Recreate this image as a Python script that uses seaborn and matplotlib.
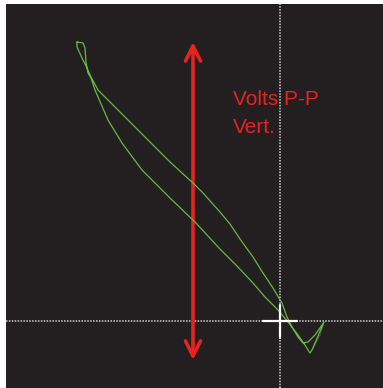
import numpy as np
import matplotlib
matplotlib.use("Agg")
import matplotlib.pyplot as plt
import seaborn as sns
import pandas as pd
from matplotlib import font_manager

# trace du scope (divisions, croix = 0,0)
# branche descendante
trace_x = [-4.06, -4.06, -3.96, -3.86, -3.78, -3.64, -3.30, -2.90, -2.50, -2.20,
           -1.74, -1.54, -1.20, -1.00, -0.80, -0.54, -0.34, -0.14, 0.04, 0.14,
           0.24, 0.36, 0.46, 0.56, 0.70, 0.80, 0.88]
trace_y = [5.58, 5.48, 5.26, 5.06, 4.88, 4.62, 4.28, 3.88, 3.48, 3.18,
           2.76, 2.56, 2.18, 1.94, 1.64, 1.28, 0.96, 0.66, 0.36, 0.08,
           -0.12, -0.32, -0.44, -0.42, -0.28, -0.14, -0.02]

# retour rapide (points espaces, trace pale)
faint_x = [0.88, 0.80, 0.72, 0.64]
faint_y = [-0.02, -0.28, -0.44, -0.58]

# branche remontante
retour_x = [0.64, 0.60, 0.50, 0.36, 0.16, -0.04, -0.30, -0.54, -0.86, -1.20,
            -1.70, -2.20, -2.76, -3.16, -3.44, -3.70, -3.78, -3.84, -3.88, -3.90,
            -3.94, -4.06]
retour_y = [-0.58, -0.64, -0.48, -0.28, -0.02, 0.22, 0.48, 0.76, 1.10, 1.44,
            1.98, 2.46, 3.02, 3.56, 4.02, 4.62, 4.86, 4.96, 5.18, 5.46,
            5.56, 5.58]

arrow_x = -1.74
arrow_top = 5.58
arrow_bottom = -0.78

label_lines = ["Volts P-P", "Vert."]

bg = "#231f20"
green = "#66b845"
red = "#e5231f"

sns.set_theme(style="dark", rc={"axes.facecolor": bg, "figure.facecolor": "white"})
plt.rcParams["font.family"] = ["Liberation Sans", "DejaVu Sans"]

# police etroite si dispo
noms = {f.name for f in font_manager.fontManager.ttflist}
txt_font = ["Liberation Sans Narrow"] if "Liberation Sans Narrow" in noms else ["Liberation Sans"]
txt_size = 17 if "Liberation Sans Narrow" in noms else 15

fig = plt.figure(figsize=(3.83, 3.88), dpi=100)
ax = fig.add_axes([6 / 383, 0, 377 / 383, 384 / 388])
ax.set_facecolor(bg)

# reticule
ax.axhline(0, color="#d0d0d0", lw=1.1, ls=(0, (1, 0.9)), zorder=1)
ax.axvline(0, color="#d0d0d0", lw=1.1, ls=(0, (1, 0.9)), zorder=1)
ax.plot([-0.34, 0.34], [0, 0], color="white", lw=1.6, zorder=4)
ax.plot([0, 0], [0.32, -0.34], color="white", lw=1.6, zorder=4)

df = pd.DataFrame({"x": trace_x + retour_x, "y": trace_y + retour_y})
sns.lineplot(data=df, x="x", y="y", sort=False, estimator=None,
             color=green, lw=0.9, ax=ax, zorder=3)
sns.lineplot(x=faint_x, y=faint_y, sort=False, estimator=None,
             color=green, lw=0.8, alpha=0.4, ax=ax, zorder=3)

ax.annotate("", xy=(arrow_x, arrow_top), xytext=(arrow_x, arrow_bottom),
            arrowprops=dict(arrowstyle="<->,head_length=0.9,head_width=0.45",
                            color=red, lw=2.6, shrinkA=0, shrinkB=0), zorder=2)

ax.text(-0.94, 4.32, label_lines[0], color=red, fontsize=txt_size,
        family=txt_font, va="baseline", ha="left", zorder=5)
ax.text(-0.94, 3.76, label_lines[1], color=red, fontsize=txt_size,
        family=txt_font, va="baseline", ha="left", zorder=5)

ax.set_xlim(-5.48, 2.06)
ax.set_ylim(-1.34, 6.34)
ax.set_xlabel("")
ax.set_ylabel("")
ax.set_xticks([])
ax.set_yticks([])
for s in ax.spines.values():
    s.set_visible(False)

fig.savefig("out.png", dpi=100)
